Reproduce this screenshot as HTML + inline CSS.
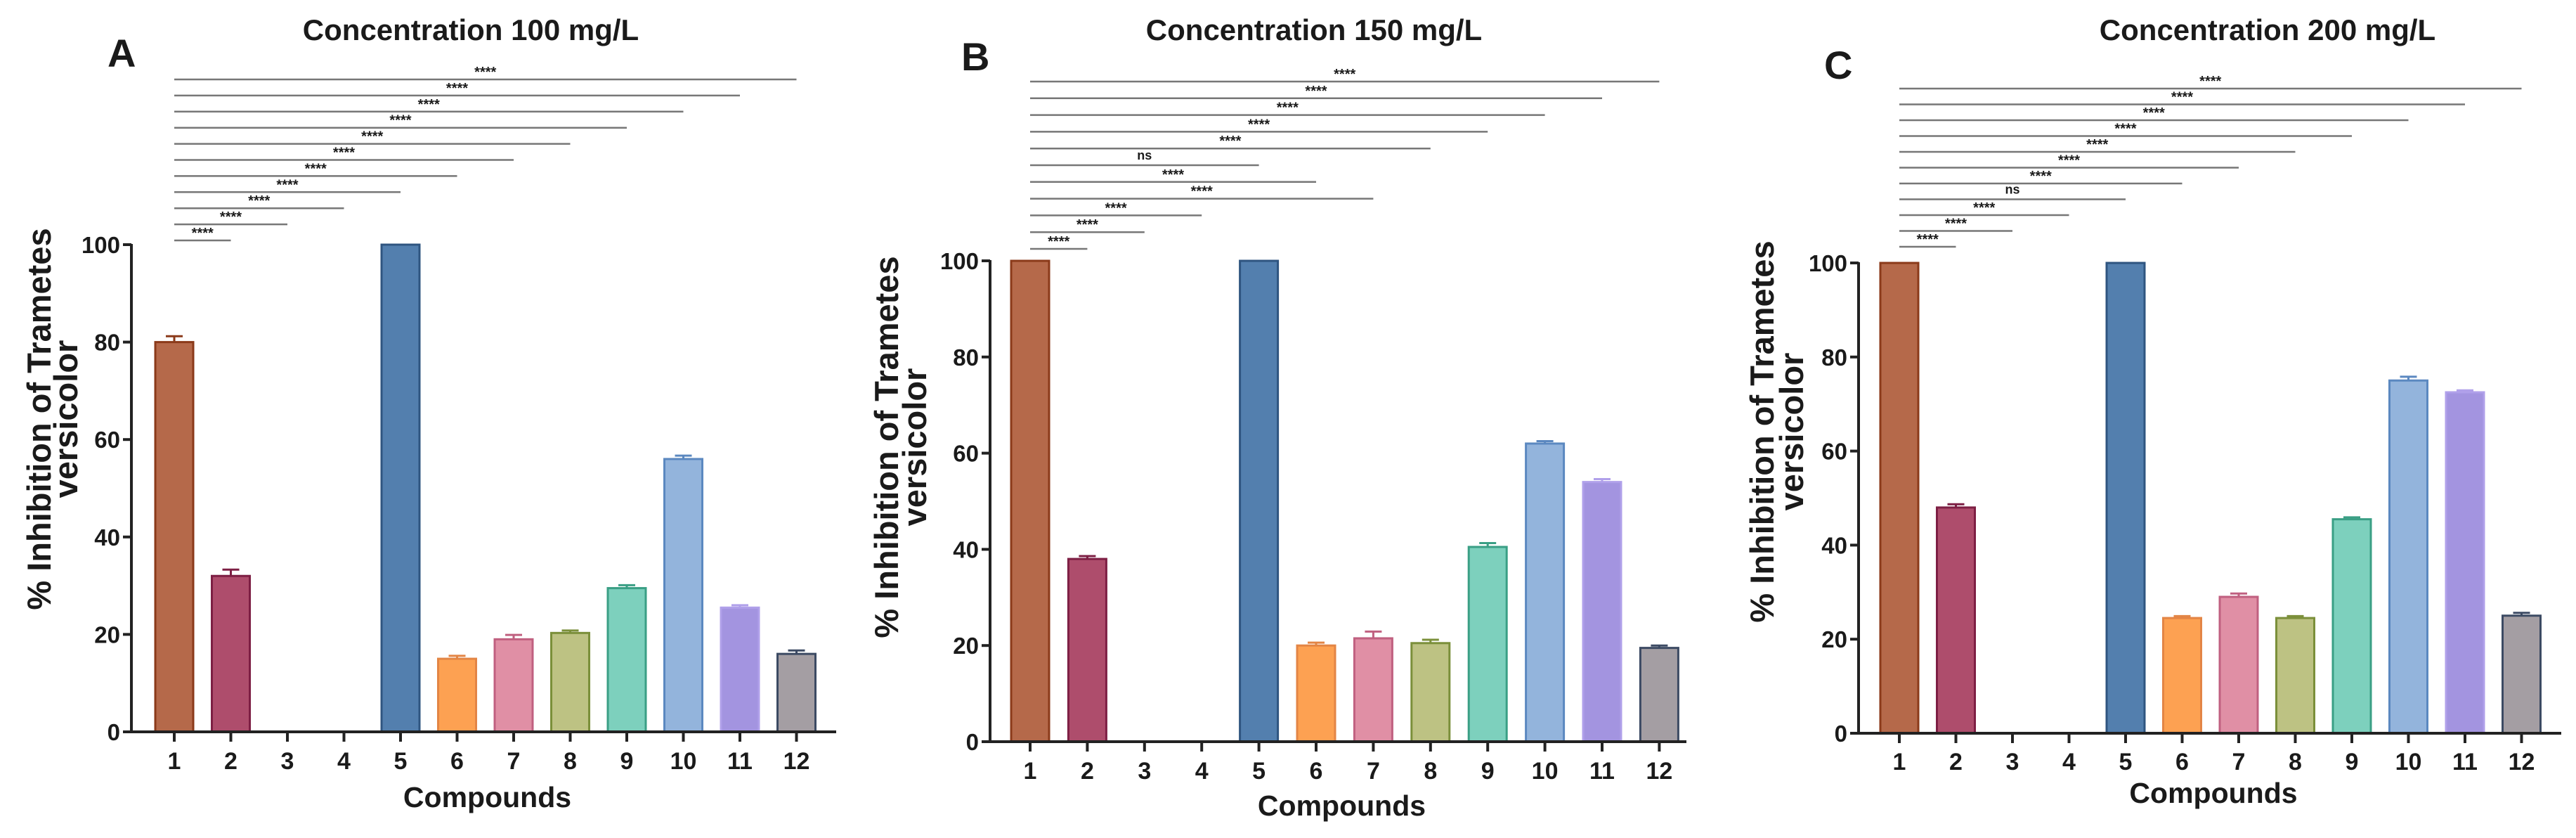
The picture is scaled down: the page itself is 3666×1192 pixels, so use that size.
<!DOCTYPE html>
<html><head><meta charset="utf-8"><style>
html,body{margin:0;padding:0;background:#fff;}
svg text{font-family:"Liberation Sans Narrow","Liberation Sans",sans-serif;font-weight:bold;fill:#1a1a1a;}
</style></head><body>
<svg id="fig" width="3666" height="1187" viewBox="0 0 3666 1187" xmlns="http://www.w3.org/2000/svg"></svg>
<script>
const categories = ["1","2","3","4","5","6","7","8","9","10","11","12"];
const valuesA = [80,32,0,0,100,15,19,20.3,29.5,56,25.5,16];
const errorsA = [1.2,1.3,0,0,0,0.6,0.9,0.5,0.6,0.7,0.5,0.7];
const valuesB = [100,38,0,0,100,20,21.5,20.5,40.5,62,54,19.5];
const errorsB = [0,0.6,0,0,0,0.6,1.4,0.7,0.8,0.5,0.6,0.5];
const valuesC = [100,48,0,0,100,24.5,29,24.5,45.5,75,72.5,25];
const errorsC = [0,0.7,0,0,0,0.4,0.7,0.4,0.4,0.8,0.4,0.6];
const yTicks = [0,20,40,60,80,100];
const sigTargetsA = [2,3,4,5,6,7,8,9,10,11,12];
const sigLabelsA = ["****","****","****","****","****","****","****","****","****","****","****"];
const sigTargetsB = [2,3,4,7,6,5,8,9,10,11,12];
const sigLabelsB = ["****","****","****","****","****","ns","****","****","****","****","****"];
const sigTargetsC = [2,3,4,5,6,7,8,9,10,11,12];
const sigLabelsC = ["****","****","****","ns","****","****","****","****","****","****","****"];
const fills = ["#b5694a","#ae4d6c","#999","#999","#537fae","#fda152","#e08fa5","#bdc283","#7dd0bd","#93b4dc","#a394e0","#a49ea3"];
const strokes = ["#8b3a1a","#7d1f44","#555","#555","#2f5580","#e38545","#c06080","#7b8f3a","#3a9f85","#5b88c0","#b0a0ea","#3c4a63"];

const NS="http://www.w3.org/2000/svg";
const svg=document.getElementById('fig');
function mk(tag,attrs,parent,text){const e=document.createElementNS(NS,tag);for(const k in attrs)e.setAttribute(k,attrs[k]);if(text!==undefined)e.textContent=text;(parent||svg).appendChild(e);return e;}

const panels=[
 {id:'a',letter:'A',lx:153,ly:95,title:'Concentration 100 mg/L',tx:670,axisX:187,axisEnd:1190,y0:1041,y100:348,b1:248,pitch:80.5,vals:valuesA,errs:errorsA,
  sigT:sigTargetsA,sigL:sigLabelsA,sigBottom:342,sigTop:113,labX:[56,94],labY:596,tickLabY:1094,compY:1148},
 {id:'b',letter:'B',lx:1368,ly:100,title:'Concentration 150 mg/L',tx:1870,axisX:1409,axisEnd:2400,y0:1055,y100:371,b1:1466,pitch:81.4,vals:valuesB,errs:errorsB,
  sigT:sigTargetsB,sigL:sigLabelsB,sigBottom:354,sigTop:116,labX:[1262,1302],labY:636,tickLabY:1108,compY:1160},
 {id:'c',letter:'C',lx:2596,ly:112,title:'Concentration 200 mg/L',tx:3227,axisX:2645,axisEnd:3645,y0:1043,y100:374,b1:2703,pitch:80.5,vals:valuesC,errs:errorsC,
  sigT:sigTargetsC,sigL:sigLabelsC,sigBottom:351,sigTop:126,labX:[2508,2550],labY:614,tickLabY:1095,compY:1142}
];

panels.forEach(p=>{
  const g=mk('g',{});
  
  
  const yS=v=>p.y0+(p.y100-p.y0)*v/100;
  const xS=i=>p.b1+p.pitch*i;
  const L=mk('text',{x:p.lx,y:p.ly,'font-size':56,'font-family':'Liberation Sans'},g,p.letter);
  
  
  const T=mk('text',{x:p.tx,y:57,'font-size':42,'text-anchor':'middle'},g,p.title);
  
  
  p.vals.forEach((v,i)=>{
    if(v<=0)return;
    const w=54,x=xS(i)-w/2,y=yS(v);
    const r=mk('rect',{x:x,y:y,width:w,height:p.y0-y,fill:fills[i],stroke:strokes[i],'stroke-width':3},g);
    
    
    const e=p.errs[i];
    if(e>0){
      const ye=yS(v+e);
      const eb=mk('path',{d:`M${xS(i)},${y} V${ye} M${xS(i)-12},${ye} H${xS(i)+12}`,stroke:strokes[i],'stroke-width':3,fill:'none'},g);
      
      
    }
  });
  const ya=mk('line',{x1:p.axisX,y1:p.y100-1,x2:p.axisX,y2:p.y0+2,stroke:'#222','stroke-width':4},g);
  
  
  const xa=mk('line',{x1:p.axisX-12,y1:p.y0,x2:p.axisEnd,y2:p.y0,stroke:'#222','stroke-width':4},g);
  
  
  yTicks.forEach(t=>{
    const yy=yS(t);
    mk('line',{x1:p.axisX-12,y1:yy,x2:p.axisX,y2:yy,stroke:'#222','stroke-width':4},g);
    const tl=mk('text',{x:p.axisX-16,y:yy+12,'font-size':33,'text-anchor':'end'},g,t);
    
    
  });
  categories.forEach((c,i)=>{
    mk('line',{x1:xS(i),y1:p.y0,x2:xS(i),y2:p.y0+14,stroke:'#222','stroke-width':4},g);
    const tl=mk('text',{x:xS(i),y:p.tickLabY,'font-size':34,'text-anchor':'middle'},g,c);
    
    
  });
  const xt=mk('text',{x:(p.axisX+p.axisEnd)/2+5,y:p.compY,'font-size':41,'text-anchor':'middle'},g,'Compounds');
  
  
  const yt=mk('text',{transform:`translate(${p.labX[0]+16},${p.labY}) rotate(-90)`,'font-size':47,'text-anchor':'middle','font-family':'Liberation Sans'},g,'% Inhibition of Trametes');
  
  
  const yt2=mk('text',{transform:`translate(${p.labX[1]+16},${p.labY}) rotate(-90)`,'font-size':47,'text-anchor':'middle','font-family':'Liberation Sans'},g,'versicolor');
  
  
  const n=p.sigT.length, step=(p.sigBottom-p.sigTop)/(n-1);
  p.sigT.forEach((t,k)=>{
    const yy=p.sigBottom-step*k, x2=xS(t-1);
    const sl=mk('line',{x1:xS(0),y1:yy,x2:x2,y2:yy,stroke:'#777','stroke-width':2.5},g);
    
    
    const isNs=p.sigL[k]==='ns';
    const st=mk('text',{x:(xS(0)+x2)/2,y:yy-(isNs?8:4),'font-size':isNs?18:20,'text-anchor':'middle','font-weight':isNs?'normal':'bold'},g,p.sigL[k]);
    
    
  });
});
</script>
</body></html>
